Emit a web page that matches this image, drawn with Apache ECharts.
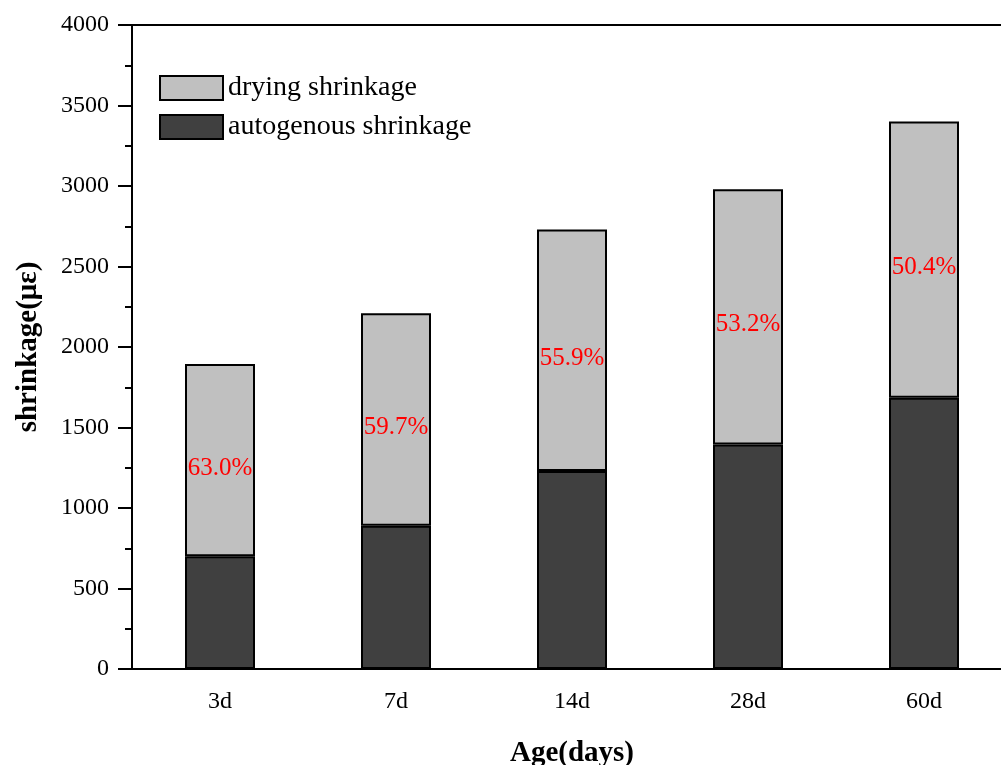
<!DOCTYPE html>
<html>
<head>
<meta charset="utf-8">
<script src="https://cdn.jsdelivr.net/npm/echarts@6/dist/echarts.min.js"></script>
<style>
  html, body { margin: 0; padding: 0; background: #ffffff; overflow: hidden; }
  #chart { width: 1001px; height: 765px; }
</style>
</head>
<body>
<div id="chart"></div>
<script>
// Shrinkage at each curing age (με)
const ages = ['3d', '7d', '14d', '28d', '60d'];
const autogenous = [700, 890, 1230, 1395, 1685];
const drying = [1195, 1320, 1500, 1585, 1715];
// Share of drying shrinkage in the total, as printed on each bar
const dryingShare = ['63.0%', '59.7%', '55.9%', '53.2%', '50.4%'];
const yTicks = { min: 0, max: 4000, step: 500 };

const FONT = '"Liberation Serif", "Times New Roman", serif';
const chart = echarts.init(document.getElementById('chart'));

chart.setOption({
  animation: false,
  backgroundColor: '#ffffff',
  textStyle: { fontFamily: FONT, color: '#000' },
  grid: {
    left: 132, top: 25, bottom: 96, right: -11,
    outerBoundsMode: 'none',
    containLabel: false,
    show: true, borderColor: '#000', borderWidth: 2, backgroundColor: 'transparent'
  },
  legend: {
    orient: 'vertical',
    left: 159, top: 74,
    icon: 'rect',
    itemWidth: 63, itemHeight: 24, itemGap: 11,
    padding: 0,
    data: ['drying shrinkage', 'autogenous shrinkage'],
    textStyle: { fontFamily: FONT, fontSize: 28, color: '#000' }
  },
  xAxis: [
    {
      type: 'category',
      data: ages,
      position: 'bottom',
      name: 'Age(days)',
      nameLocation: 'middle',
      nameGap: 70,
      nameTextStyle: { fontFamily: FONT, fontSize: 29, fontWeight: 'bold', color: '#000' },
      axisLine: { lineStyle: { color: '#000', width: 2 } },
      axisTick: { alignWithLabel: true, length: 14, lineStyle: { color: '#000', width: 2 } },
      axisLabel: { margin: 21, fontFamily: FONT, fontSize: 24, color: '#000' },
      splitLine: { show: false }
    },
    {
      // short ticks on the category boundaries
      type: 'category',
      data: ages,
      position: 'bottom',
      axisLine: { show: false },
      axisTick: { alignWithLabel: false, length: 7, lineStyle: { color: '#000', width: 2 } },
      axisLabel: { show: false },
      splitLine: { show: false }
    }
  ],
  yAxis: {
    type: 'value',
    min: yTicks.min, max: yTicks.max, interval: yTicks.step,
    name: 'shrinkage(με)',
    nameLocation: 'middle',
    nameGap: 89,
    nameTextStyle: { fontFamily: FONT, fontSize: 29, fontWeight: 'bold', color: '#000' },
    axisLine: { show: true, lineStyle: { color: '#000', width: 2 } },
    axisTick: { show: true, length: 14, lineStyle: { color: '#000', width: 2 } },
    minorTick: { show: true, splitNumber: 2, length: 7, lineStyle: { color: '#000', width: 2 } },
    axisLabel: { margin: 23, fontFamily: FONT, fontSize: 24, color: '#000', formatter: v => String(v) },
    splitLine: { show: false }
  },
  series: [
    {
      name: 'autogenous shrinkage',
      type: 'bar',
      stack: 'total',
      barWidth: 70,
      data: autogenous,
      itemStyle: { color: '#404040', borderColor: '#000', borderWidth: 2 }
    },
    {
      name: 'drying shrinkage',
      type: 'bar',
      stack: 'total',
      barWidth: 70,
      data: drying,
      itemStyle: { color: '#c0c0c0', borderColor: '#000', borderWidth: 2 },
      label: {
        show: true,
        position: 'inside',
        offset: [0, 8],
        formatter: p => dryingShare[p.dataIndex],
        fontFamily: FONT,
        fontSize: 25,
        color: '#ff0000'
      }
    }
  ]
});
</script>
</body>
</html>
